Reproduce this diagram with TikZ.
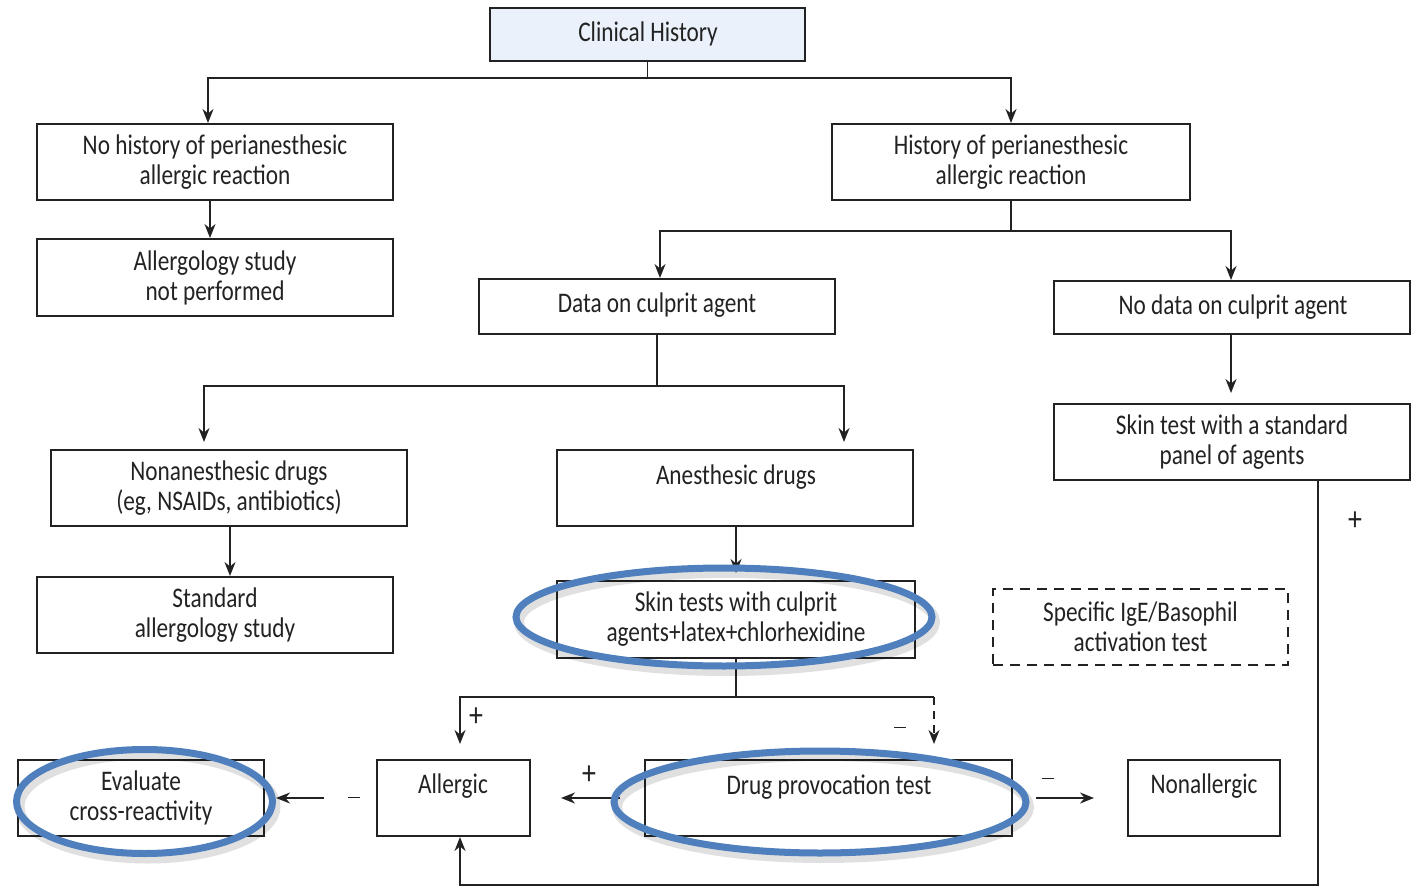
\documentclass[tikz,border=0pt]{standalone}
\usepackage{fontspec}
\setmainfont{Carlito}[FakeStretch=0.82]
\usetikzlibrary{arrows.meta,calc}
\definecolor{ringblue}{HTML}{4F7FBC}
\definecolor{headfill}{HTML}{EAF1FA}
\definecolor{ink}{HTML}{222222}
\newcommand\minussign{\rule[2.6pt]{6pt}{0.7pt}}
\tikzset{
  box/.style={draw=ink, line width=1pt, rectangle, inner sep=0pt, align=center,
    font=\fontsize{14.2}{15}\selectfont, text=ink},
  wh/.style 2 args={minimum width=#1pt, minimum height=#2pt},
  txt/.style={inner sep=0pt, anchor=base, font=\fontsize{14.2}{14.5}\selectfont, text=ink},
  link/.style={draw=ink, line width=0.9pt},
  arr/.style={link, -{Stealth[length=7pt,width=5.5pt]}},
  sign/.style={font=\fontsize{17}{17}\selectfont, inner sep=0pt, text=ink},
  ring/.style={draw=ringblue, line width=3.5pt},
  ringshade/.style={draw=black, line width=5pt, opacity=0.12},
}
\begin{document}
\begin{tikzpicture}[x=0.5pt,y=-0.5pt]
\useasboundingbox (0,0) rectangle (1412,887);

% boxes
\node[box, fill=headfill, wh={157.5}{26.5}] (head) at (647.5,34.5) {};
\node[txt] at (648,42) {Clinical History};
\node[box, wh={178}{38}] (nohist) at (215,162) {No history of perianesthesic\\allergic reaction};
\node[box, wh={178}{38.5}] (notperf) at (215,277.5) {Allergology study\\not performed};
\node[box, wh={179}{38}] (hist) at (1011,162) {History of perianesthesic\\allergic reaction};
\node[box, wh={178}{27.5}] (data) at (657,306.5) {};
\node[txt] at (657,313) {Data on culprit agent};
\node[box, wh={178}{26.5}] (nodata) at (1232,307.5) {};
\node[txt] at (1233,315) {No data on culprit agent};
\node[box, wh={178}{38}] (nonan) at (229,488) {Nonanesthesic drugs\\(eg, NSAIDs, antibiotics)};
\node[box, wh={178}{38}] (anes) at (735,488) {};
\node[txt] at (736,484) {Anesthesic drugs};
\node[box, wh={178}{38}] (std) at (215,615) {Standard\\allergology study};
\node[box, wh={179}{38.5}] (skin) at (736,619.5) {Skin tests with culprit\\agents+latex+chlorhexidine};
\node[box, wh={178}{38}] (panel) at (1232,442) {Skin test with a standard\\panel of agents};
\node[box, dashed, dash pattern=on 5pt off 3.5pt, wh={147.5}{38}] (specific) at (1140.5,627) {Specific IgE/Basophil\\activation test};
\node[box, wh={76.5}{38}] (allergic) at (453.5,798) {};
\node[txt] at (453,793) {Allergic};
\node[box, wh={183.5}{38}] (dpt) at (828.5,798) {};
\node[txt] at (829,794) {Drug provocation test};
\node[box, wh={76}{38}] (nonall) at (1204,798) {};
\node[txt] at (1204,793) {Nonallergic};
\node[box, wh={123}{38}] (eval) at (141,798) {Evaluate\\cross-reactivity};

% connectors
\draw[arr] (head.south) -- ++(0,16) -| (nohist.north -| 208,0);
\draw[arr] (head.south) -- ++(0,16) -| (hist.north);
\draw[arr] (nohist.south -| 210,0) -- (notperf.north -| 210,0);
\draw[arr] (hist.south) -- ++(0,30) -| (data.north -| 660,0);
\draw[arr] (hist.south) -- ++(0,30) -| (nodata.north -| 1231,0);
\draw[arr] (data.south) -- ++(0,51) -| ([yshift=3.5pt]nonan.north -| 204,0);
\draw[arr] (data.south) -- ++(0,51) -| ([yshift=3.5pt]anes.north -| 844,0);
\draw[arr] (nonan.south -| 230,0) -- (std.north -| 230,0);
\draw[arr] (anes.south -| 736,0) -- ([yshift=3.5pt]skin.north -| 736,0);
\draw[arr] (nodata.south -| 1231,0) -- ([yshift=5pt]panel.north -| 1231,0);

\coordinate (split) at (736,697);
\draw[link] (skin.south -| split) -- (split);
\draw[arr] (split) -| ([yshift=7.5pt]allergic.north -| 460,0);
\draw[link] (split) -- (934,697) coordinate (splitR);
\draw[arr, dashed, dash pattern=on 4pt off 3pt] (splitR) -- ([yshift=7.5pt]dpt.north -| splitR);
\node[sign] at (476,717) {+};
\node[sign] at (900,730) {\minussign};

\draw[arr, shorten >=15pt] ([xshift=-12pt]dpt.west) -- (allergic.east);
\node[sign] at (589,775) {+};
\node[sign] (m1) at (354,800) {\minussign};
\draw[arr] ([xshift=-12pt]m1.west |- allergic.east) -- ([xshift=5.5pt]eval.east);
\node[sign] at (1048,781) {\minussign};
\draw[arr, shorten <=11.5pt, shorten >=16.5pt] (dpt.east) -- (nonall.west);

\coordinate (loopR) at (1318,885);
\draw[arr] (panel.south -| loopR) -- (loopR) -| (allergic.south -| 460,0);
\node[sign] at (1355,521) {+};

% highlight rings
\foreach \cx/\cy/\rx/\ry in {724/617/104/24.5, 820/802/103/25.5, 144.5/801.5/64/26}{
  \draw[ringshade] (\cx+3,\cy+5) ellipse [x radius=\rx pt, y radius=\ry pt];
  \draw[ring] (\cx,\cy) ellipse [x radius=\rx pt, y radius=\ry pt];
}
\end{tikzpicture}
\end{document}
